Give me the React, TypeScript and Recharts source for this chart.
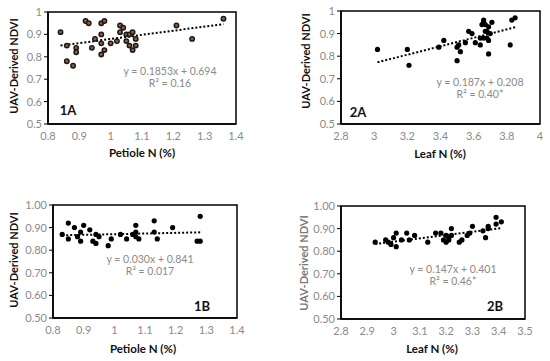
import React from "react";
import { ScatterChart, Scatter, XAxis, YAxis, ReferenceLine, ReferenceArea } from "recharts";

// 1A: petiole N vs NDVI (first date)
const petioleN1A = [0.84, 0.86, 0.86, 0.88, 0.89, 0.89, 0.92, 0.93, 0.94, 0.95, 0.97, 0.97, 0.97, 0.97, 0.98, 0.98, 1.0, 1.02, 1.03, 1.03, 1.04, 1.05, 1.05, 1.06, 1.06, 1.07, 1.07, 1.08, 1.08, 1.21, 1.26, 1.36];
const ndvi1A = [0.91, 0.85, 0.78, 0.76, 0.84, 0.82, 0.96, 0.95, 0.84, 0.88, 0.95, 0.9, 0.86, 0.81, 0.96, 0.83, 0.86, 0.87, 0.94, 0.91, 0.93, 0.9, 0.87, 0.9, 0.85, 0.91, 0.83, 0.88, 0.85, 0.94, 0.88, 0.97];
const trend1A = [[0.84, 0.85], [1.36, 0.946]];

// 2A: leaf N vs NDVI (first date)
const leafN2A = [3.02, 3.2, 3.21, 3.39, 3.42, 3.5, 3.5, 3.51, 3.52, 3.55, 3.57, 3.59, 3.61, 3.64, 3.64, 3.65, 3.66, 3.66, 3.67, 3.67, 3.66, 3.68, 3.68, 3.69, 3.69, 3.69, 3.7, 3.71, 3.82, 3.83, 3.85];
const ndvi2A = [0.83, 0.83, 0.76, 0.84, 0.87, 0.78, 0.84, 0.85, 0.82, 0.86, 0.91, 0.9, 0.86, 0.88, 0.85, 0.94, 0.96, 0.95, 0.94, 0.91, 0.88, 0.88, 0.91, 0.93, 0.87, 0.81, 0.9, 0.95, 0.85, 0.96, 0.97];
const trend2A = [[3.02, 0.773], [3.85, 0.928]];

// 1B: petiole N vs NDVI (second date)
const petioleN1B = [0.83, 0.85, 0.85, 0.87, 0.88, 0.89, 0.89, 0.9, 0.92, 0.93, 0.94, 0.94, 0.95, 0.98, 0.99, 1.02, 1.04, 1.06, 1.07, 1.07, 1.07, 1.08, 1.13, 1.13, 1.14, 1.19, 1.27, 1.28, 1.28];
const ndvi1B = [0.87, 0.92, 0.85, 0.9, 0.86, 0.88, 0.84, 0.91, 0.89, 0.84, 0.87, 0.83, 0.86, 0.82, 0.85, 0.87, 0.85, 0.87, 0.91, 0.88, 0.86, 0.85, 0.93, 0.88, 0.85, 0.9, 0.84, 0.84, 0.95];
const trend1B = [[0.83, 0.866], [1.28, 0.879]];

// 2B: leaf N vs NDVI (second date)
const leafN2B = [2.93, 2.97, 2.98, 2.99, 3.0, 3.01, 3.01, 3.03, 3.05, 3.06, 3.08, 3.13, 3.16, 3.18, 3.19, 3.2, 3.2, 3.21, 3.21, 3.22, 3.22, 3.25, 3.26, 3.28, 3.29, 3.3, 3.34, 3.35, 3.36, 3.36, 3.39, 3.39, 3.41];
const ndvi2B = [0.84, 0.85, 0.84, 0.83, 0.86, 0.88, 0.82, 0.85, 0.88, 0.85, 0.87, 0.84, 0.88, 0.88, 0.85, 0.84, 0.87, 0.85, 0.86, 0.9, 0.87, 0.84, 0.85, 0.87, 0.88, 0.91, 0.89, 0.86, 0.9, 0.91, 0.95, 0.92, 0.93];
const trend2B = [[2.93, 0.832], [3.41, 0.902]];

const petioleTicks = [0.8, 0.9, 1, 1.1, 1.2, 1.3, 1.4];
const leafTicksA = [2.8, 3, 3.2, 3.4, 3.6, 3.8, 4];
const leafTicksB = [2.8, 2.9, 3, 3.1, 3.2, 3.3, 3.4, 3.5];
const ndviTicks = [0.5, 0.6, 0.7, 0.8, 0.9, 1];

const FONT = "Lato, 'Open Sans', sans-serif";
const GRAY = "#8a8a8a";

type Box = { left: number; top: number; right: number; bottom: number };
type Txt = { x: number; y: number };

type PanelProps = {
  xs: number[];
  ys: number[];
  trend: number[][];
  xTicks: number[];
  yDecimals: number;
  chart: { left: number; top: number; width: number; height: number };
  plot: Box;
  hollow?: boolean;
  xTitle: string;
  tag: string;
  tagPos: Txt;
  eq: string;
  r2: string;
  eqPos: Txt;
  yLabelPos: Txt;
  xTitlePos: Txt;
  yLabelColor?: string;
};

const Dot = (props: any) => {
  const { cx, cy, hollow } = props;
  if (cx == null || cy == null) return <g />;
  return hollow ? (
    <circle cx={cx} cy={cy} r={2.2} fill="#9a5a34" stroke="#1a1a1a" strokeWidth={1.5} />
  ) : (
    <circle cx={cx} cy={cy} r={2.6} fill="#000" />
  );
};

function Panel(p: PanelProps) {
  const yW = 30;
  const xH = 20;
  const { chart, plot } = p;
  const margin = {
    left: plot.left - chart.left - yW,
    top: plot.top - chart.top,
    right: chart.left + chart.width - plot.right,
    bottom: chart.top + chart.height - plot.bottom - xH,
  };
  const data = p.xs.map((x, i) => ({ x, y: p.ys[i] }));
  const xMin = p.xTicks[0];
  const xMax = p.xTicks[p.xTicks.length - 1];
  const tickStyle = { fill: GRAY, fontSize: 11, fontFamily: FONT };
  const abs = (pos: Txt): React.CSSProperties => ({
    position: "absolute",
    left: pos.x,
    top: pos.y,
    transform: "translate(-50%, -50%)",
    whiteSpace: "nowrap",
    fontFamily: FONT,
  });
  return (
    <>
      <div style={{ position: "absolute", left: chart.left, top: chart.top }}>
        <ScatterChart width={chart.width} height={chart.height} margin={margin}>
          <XAxis
            type="number"
            dataKey="x"
            domain={[xMin, xMax]}
            ticks={p.xTicks}
            height={xH}
            tick={tickStyle}
            tickLine={false}
            axisLine={{ stroke: "#000", strokeWidth: 1.5 }}
            tickFormatter={(v: number) => String(+v.toFixed(1))}
            interval={0}
          />
          <YAxis
            type="number"
            dataKey="y"
            domain={[0.5, 1]}
            ticks={ndviTicks}
            width={yW}
            tick={tickStyle}
            tickSize={4}
            tickLine={{ stroke: "#000" }}
            axisLine={{ stroke: "#000", strokeWidth: 1.5 }}
            tickFormatter={(v: number) => (p.yDecimals ? v.toFixed(p.yDecimals) : String(+v.toFixed(1)))}
            interval={0}
          />
          <ReferenceArea x1={xMin} x2={xMax} y1={0.5} y2={1} fill="none" fillOpacity={0} stroke="#000" strokeWidth={1.5} />
          <ReferenceLine
            segment={[
              { x: p.trend[0][0], y: p.trend[0][1] },
              { x: p.trend[1][0], y: p.trend[1][1] },
            ]}
            stroke="#000"
            strokeWidth={2}
            strokeDasharray="2 2"
          />
          <Scatter data={data} isAnimationActive={false} shape={(s: any) => <Dot {...s} hollow={p.hollow} />} />
        </ScatterChart>
      </div>
      <div
        style={{
          ...abs(p.yLabelPos),
          transform: "translate(-50%, -50%) rotate(-90deg)",
          fontWeight: 700,
          fontSize: 11,
          color: p.yLabelColor || "#111",
        }}
      >
        UAV-Derived NDVI
      </div>
      <div style={{ ...abs(p.xTitlePos), fontWeight: 700, fontSize: 11.5, color: "#111" }}>{p.xTitle}</div>
      <div style={{ ...abs(p.tagPos), fontWeight: 700, fontSize: 13, color: "#111" }}>{p.tag}</div>
      <div style={{ ...abs(p.eqPos), fontSize: 10.5, color: GRAY, textAlign: "center", lineHeight: "12px" }}>
        <div>{p.eq}</div>
        <div>{p.r2}</div>
      </div>
    </>
  );
}

export default function App() {
  return (
    <div style={{ position: "relative", width: 550, height: 361, background: "#fff", overflow: "hidden" }}>
      <style>{"body{margin:0}"}</style>
      <Panel
        xs={petioleN1A}
        ys={ndvi1A}
        trend={trend1A}
        xTicks={petioleTicks}
        yDecimals={0}
        chart={{ left: 0, top: 0, width: 275, height: 180 }}
        plot={{ left: 48, top: 12, right: 236, bottom: 124 }}
        hollow
        xTitle="Petiole N (%)"
        tag="1A"
        tagPos={{ x: 68, y: 110 }}
        eq="y = 0.1853x + 0.694"
        r2="R² = 0.16"
        eqPos={{ x: 170, y: 77 }}
        yLabelPos={{ x: 13, y: 66 }}
        xTitlePos={{ x: 142, y: 152 }}
      />
      <Panel
        xs={leafN2A}
        ys={ndvi2A}
        trend={trend2A}
        xTicks={leafTicksA}
        yDecimals={0}
        chart={{ left: 275, top: 0, width: 275, height: 180 }}
        plot={{ left: 341, top: 11, right: 540, bottom: 124 }}
        xTitle="Leaf N (%)"
        tag="2A"
        tagPos={{ x: 358, y: 112 }}
        eq="y = 0.187x + 0.208"
        r2="R² = 0.40*"
        eqPos={{ x: 480, y: 88 }}
        yLabelPos={{ x: 305, y: 61 }}
        xTitlePos={{ x: 440, y: 153 }}
      />
      <Panel
        xs={petioleN1B}
        ys={ndvi1B}
        trend={trend1B}
        xTicks={petioleTicks}
        yDecimals={2}
        chart={{ left: 0, top: 180, width: 275, height: 181 }}
        plot={{ left: 53, top: 205, right: 237, bottom: 318 }}
        xTitle="Petiole N (%)"
        tag="1B"
        tagPos={{ x: 202, y: 306 }}
        eq="y = 0.030x + 0.841"
        r2="R² = 0.017"
        eqPos={{ x: 150, y: 265 }}
        yLabelPos={{ x: 13, y: 260 }}
        xTitlePos={{ x: 143, y: 348 }}
      />
      <Panel
        xs={leafN2B}
        ys={ndvi2B}
        trend={trend2B}
        xTicks={leafTicksB}
        yDecimals={2}
        chart={{ left: 275, top: 180, width: 275, height: 181 }}
        plot={{ left: 341, top: 206, right: 525, bottom: 319 }}
        xTitle="Leaf N (%)"
        tag="2B"
        tagPos={{ x: 495, y: 306 }}
        eq="y = 0.147x + 0.401"
        r2="R² = 0.46*"
        eqPos={{ x: 453, y: 275 }}
        yLabelPos={{ x: 303, y: 263 }}
        xTitlePos={{ x: 432, y: 348 }}
        yLabelColor="#7a7a7a"
      />
    </div>
  );
}
